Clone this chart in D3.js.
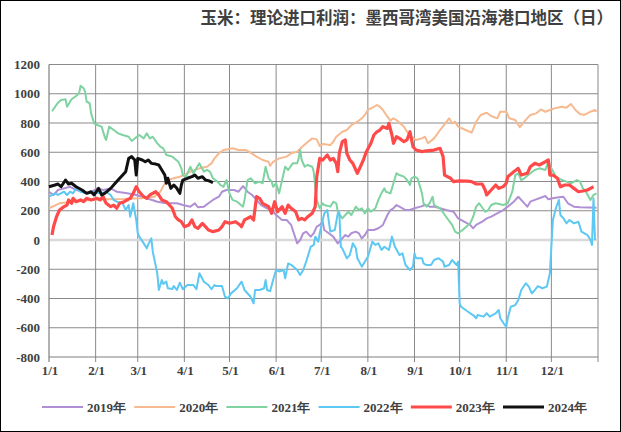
<!DOCTYPE html>
<html>
<head>
<meta charset="utf-8">
<title>玉米：理论进口利润</title>
<script src="https://d3js.org/d3.v7.min.js"></script>
<style>
  body { margin: 0; background: #fff; }
  svg { display: block; }
</style>
</head>
<body>
<div id="chart"></div>
<script>

  const chartTitle = "玉米：理论进口利润：墨西哥湾美国沿海港口地区（日）";
  const xTickLabels = ["1/1","2/1","3/1","4/1","5/1","6/1","7/1","8/1","9/1","10/1","11/1","12/1"];
  const yTicks = [-800,-600,-400,-200,0,200,400,600,800,1000,1200];
  const seriesNames = ["2019年","2020年","2021年","2022年","2023年","2024年"];
  const seriesColors = ["#b08fd4","#f7b98f","#7ed3a0","#5cc8f3","#ff4a4a","#111111"];
  const seriesWidths = [2,2,2,2,3.2,3];

  const s2019 = [["1/1",330],["1/4",308],["1/7",342],["1/11",353],["1/15",364],["1/19",342],["1/24",330],["1/28",319],["2/2",353],["2/6",342],["2/11",353],["2/15",330],["2/22",319],["2/28",308],["3/7",285],["3/14",262],["3/20",251],["3/27",251],["3/31",239],["4/5",228],["4/8",251],["4/10",224],["4/14",228],["4/17",251],["4/20",274],["4/24",296],["4/26",330],["4/29",342],["5/4",342],["5/7",330],["5/10",369],["5/13",330],["5/16",308],["5/19",274],["5/22",239],["5/26",217],["5/29",205],["6/1",171],["6/5",137],["6/8",137],["6/11",103],["6/15",-23],["6/17",0],["6/19",46],["6/21",57],["6/24",23],["6/26",46],["6/28",91],["6/30",103],["7/2",125],["7/3",68],["7/6",46],["7/9",23],["7/12",-23],["7/15",11],["7/17",34],["7/19",23],["7/21",46],["7/24",57],["7/26",46],["7/28",11],["7/30",34],["8/1",68],["8/5",68],["8/8",80],["8/11",103],["8/14",171],["8/16",205],["8/18",217],["8/20",239],["8/22",228],["8/26",205],["8/29",205],["9/1",217],["9/5",228],["9/8",239],["9/11",228],["9/14",228],["9/18",217],["9/22",205],["9/27",193],["9/30",148],["10/4",125],["10/8",103],["10/10",80],["10/12",103],["10/16",125],["10/19",148],["10/22",160],["10/26",182],["10/30",205],["11/2",228],["11/6",262],["11/9",296],["11/12",262],["11/15",228],["11/17",262],["11/20",274],["11/27",301],["11/29",278],["12/2",285],["12/6",292],["12/9",296],["12/12",251],["12/16",228],["12/20",224],["12/26",222],["12/31",221]];

  const s2020 = [["1/1",217],["1/8",251],["1/17",262],["1/28",274],["2/8",278],["2/19",280],["3/3",285],["3/12",296],["3/16",330],["3/19",388],["3/21",410],["3/25",422],["3/29",433],["4/1",444],["4/5",467],["4/8",479],["4/11",490],["4/16",501],["4/19",524],["4/21",558],["4/24",593],["4/27",615],["4/30",620],["5/3",627],["5/7",615],["5/12",615],["5/15",597],["5/19",570],["5/23",547],["5/27",535],["5/28",506],["5/30",535],["6/3",558],["6/8",570],["6/11",593],["6/15",604],["6/18",634],["6/21",661],["6/25",695],["6/28",688],["6/30",643],["7/2",656],["7/7",649],["7/9",672],["7/11",706],["7/15",740],["7/18",752],["7/21",786],["7/25",809],["7/28",832],["7/30",855],["8/1",889],["8/5",911],["8/7",923],["8/9",911],["8/11",889],["8/14",843],["8/16",816],["8/18",832],["8/20",820],["8/25",775],["8/27",740],["8/30",706],["9/2",684],["9/6",695],["9/8",706],["9/10",661],["9/14",695],["9/18",752],["9/24",832],["9/26",798],["9/28",809],["9/30",775],["10/5",752],["10/9",734],["10/12",809],["10/15",855],["10/19",870],["10/22",848],["10/26",832],["10/28",877],["11/1",877],["11/3",832],["11/7",820],["11/10",771],["11/13",809],["11/17",855],["11/21",866],["11/24",893],["11/27",877],["11/30",889],["12/3",900],["12/8",911],["12/11",905],["12/14",930],["12/17",889],["12/20",862],["12/23",855],["12/27",877],["12/30",889],["12/31",877]];

  const s2021 = [["1/3",880],["1/7",939],["1/9",957],["1/12",962],["1/13",911],["1/15",946],["1/16",962],["1/19",985],["1/21",1003],["1/22",1055],["1/24",1037],["1/25",1014],["1/26",946],["1/28",935],["1/29",866],["1/31",798],["2/2",786],["2/5",775],["2/7",706],["2/8",684],["2/10",775],["2/13",752],["2/16",729],["2/19",718],["2/23",706],["2/25",677],["2/28",702],["3/2",718],["3/5",695],["3/7",729],["3/9",695],["3/11",706],["3/14",661],["3/16",638],["3/18",627],["3/19",604],["3/20",581],["3/24",570],["3/26",552],["3/28",535],["3/30",490],["3/31",444],["4/2",433],["4/5",501],["4/7",456],["4/9",490],["4/11",524],["4/14",467],["4/16",479],["4/18",467],["4/20",422],["4/23",399],["4/25",376],["4/27",364],["4/29",410],["5/1",319],["5/3",274],["5/6",262],["5/10",228],["5/11",274],["5/13",410],["5/15",422],["5/18",388],["5/21",399],["5/23",388],["5/25",501],["5/27",422],["5/29",399],["5/30",364],["6/1",388],["6/3",319],["6/5",410],["6/7",501],["6/9",479],["6/12",524],["6/15",524],["6/16",558],["6/17",615],["6/18",547],["6/20",501],["6/22",513],["6/25",501],["6/26",467],["6/27",364],["6/28",274],["6/30",217],["7/2",251],["7/3",239],["7/7",228],["7/9",262],["7/11",251],["7/12",193],["7/15",148],["7/17",171],["7/19",193],["7/21",171],["7/24",228],["7/26",205],["7/28",217],["7/30",182],["8/1",217],["8/3",193],["8/6",217],["8/8",274],["8/10",319],["8/12",353],["8/13",330],["8/16",319],["8/18",388],["8/20",456],["8/22",444],["8/25",433],["8/27",410],["8/29",376],["8/30",422],["9/1",433],["9/3",422],["9/6",319],["9/7",251],["9/9",228],["9/11",251],["9/13",296],["9/14",239],["9/18",217],["9/22",159],["9/26",103],["9/28",57],["9/30",46],["10/3",68],["10/8",114],["10/10",159],["10/12",228],["10/14",251],["10/18",193],["10/20",205],["10/22",239],["10/25",251],["10/30",239],["11/2",251],["11/5",330],["11/7",444],["11/9",456],["11/11",410],["11/13",422],["11/17",456],["11/20",479],["11/23",490],["11/27",479],["11/29",535],["12/1",490],["12/4",433],["12/8",410],["12/11",399],["12/14",388],["12/18",410],["12/20",399],["12/22",353],["12/24",330],["12/27",274],["12/29",308],["12/31",319]];

  const s2022 = [["1/1",296],["1/5",319],["1/7",308],["1/11",330],["1/13",308],["1/15",330],["1/17",319],["1/19",353],["1/22",330],["1/26",319],["1/30",330],["2/4",319],["2/8",330],["2/11",308],["2/13",274],["2/15",262],["2/19",251],["2/21",205],["2/23",239],["2/24",159],["2/26",251],["2/27",193],["2/28",137],["3/1",46],["3/2",23],["3/5",-23],["3/7",-57],["3/8",-30],["3/10",11],["3/11",-80],["3/14",-228],["3/15",-342],["3/17",-274],["3/18",-300],["3/20",-285],["3/21",-330],["3/24",-335],["3/25",-315],["3/27",-342],["3/29",-292],["3/31",-337],["4/3",-308],["4/7",-308],["4/9",-337],["4/11",-228],["4/14",-285],["4/17",-308],["4/19",-337],["4/21",-308],["4/22",-315],["4/26",-315],["4/28",-388],["4/30",-399],["5/2",-365],["5/6",-330],["5/9",-285],["5/11",-342],["5/15",-388],["5/17",-433],["5/18",-342],["5/21",-342],["5/24",-330],["5/25",-274],["5/26",-342],["5/28",-350],["5/30",-274],["6/1",-205],["6/3",-215],["6/6",-205],["6/7",-262],["6/9",-160],["6/11",-170],["6/15",-205],["6/17",-239],["6/19",-205],["6/21",-148],["6/24",-46],["6/26",-35],["6/27",23],["6/29",-11],["6/30",46],["7/3",182],["7/5",205],["7/7",57],["7/10",68],["7/12",182],["7/13",190],["7/14",-46],["7/15",-57],["7/18",-125],["7/20",-103],["7/22",-23],["7/24",-57],["7/25",-125],["7/28",-182],["7/30",-148],["8/1",-114],["8/4",-11],["8/6",-34],["8/8",-23],["8/10",-68],["8/12",-46],["8/15",-68],["8/17",23],["8/19",-46],["8/22",-103],["8/24",-91],["8/26",-171],["8/29",-205],["8/31",-182],["9/1",-91],["9/2",-125],["9/6",-125],["9/7",-160],["9/9",-171],["9/12",-171],["9/14",-137],["9/17",-125],["9/20",-148],["9/21",-182],["9/24",-171],["9/26",-137],["9/29",-171],["9/30",-148],["10/1",-433],["10/2",-456],["10/5",-479],["10/8",-501],["10/10",-513],["10/12",-535],["10/13",-513],["10/17",-524],["10/19",-501],["10/21",-524],["10/25",-501],["10/27",-479],["10/28",-535],["10/31",-581],["11/1",-593],["11/2",-535],["11/4",-456],["11/7",-445],["11/9",-410],["11/11",-342],["11/14",-296],["11/16",-319],["11/18",-365],["11/20",-342],["11/22",-315],["11/25",-330],["11/28",-319],["11/30",-228],["12/2",137],["12/4",217],["12/6",274],["12/7",171],["12/9",148],["12/11",114],["12/13",137],["12/16",114],["12/19",125],["12/21",57],["12/25",34],["12/27",0],["12/28",-34],["12/29",283],["12/30",0]];

  const s2023 = [["1/3",34],["1/4",91],["1/6",159],["1/8",205],["1/11",228],["1/13",239],["1/14",274],["1/16",251],["1/17",285],["1/19",262],["1/22",274],["1/24",262],["1/26",285],["1/29",274],["2/2",285],["2/4",274],["2/6",296],["2/8",251],["2/11",228],["2/13",239],["2/15",217],["2/17",251],["2/20",262],["2/22",274],["2/24",285],["2/26",319],["2/28",364],["3/2",330],["3/5",296],["3/7",285],["3/9",308],["3/13",330],["3/15",308],["3/17",274],["3/20",262],["3/24",217],["3/26",159],["3/28",137],["3/30",125],["4/1",91],["4/4",103],["4/6",137],["4/8",91],["4/10",80],["4/13",114],["4/15",91],["4/17",68],["4/20",57],["4/24",68],["4/26",91],["4/28",125],["5/1",114],["5/5",125],["5/8",103],["5/9",91],["5/11",137],["5/15",159],["5/17",137],["5/19",296],["5/21",285],["5/23",251],["5/27",228],["5/29",182],["5/31",262],["6/2",193],["6/5",228],["6/7",182],["6/9",239],["6/11",217],["6/14",193],["6/16",137],["6/18",148],["6/20",137],["6/22",159],["6/25",182],["6/27",228],["6/28",433],["6/30",558],["7/2",547],["7/5",581],["7/7",547],["7/9",558],["7/11",524],["7/12",467],["7/13",593],["7/15",672],["7/17",684],["7/18",593],["7/20",547],["7/22",524],["7/25",456],["7/27",501],["7/29",547],["7/31",604],["8/3",661],["8/5",718],["8/7",740],["8/9",752],["8/11",775],["8/14",763],["8/15",798],["8/17",718],["8/18",661],["8/20",706],["8/22",695],["8/25",672],["8/27",684],["8/29",740],["8/31",638],["9/2",615],["9/6",604],["9/9",610],["9/14",615],["9/18",627],["9/20",570],["9/21",444],["9/25",422],["9/27",399],["10/1",404],["10/6",402],["10/9",399],["10/12",383],["10/16",383],["10/18",342],["10/19",308],["10/22",342],["10/25",376],["10/27",353],["10/30",365],["11/1",388],["11/2",433],["11/6",467],["11/9",490],["11/11",444],["11/15",456],["11/17",501],["11/20",524],["11/23",513],["11/27",535],["11/29",547],["11/30",444],["12/2",444],["12/5",422],["12/7",364],["12/10",376],["12/13",376],["12/16",353],["12/19",330],["12/22",335],["12/25",342],["12/27",353],["12/29",364]];

  const s2024 = [["1/1",364],["1/5",376],["1/7",383],["1/9",364],["1/12",410],["1/14",383],["1/16",388],["1/19",364],["1/23",342],["1/26",319],["1/29",330],["1/31",308],["2/3",353],["2/5",308],["2/7",319],["2/11",353],["2/14",388],["2/17",422],["2/21",467],["2/23",558],["2/25",570],["2/27",547],["2/28",444],["3/1",558],["3/4",547],["3/6",535],["3/8",547],["3/10",524],["3/13",519],["3/15",513],["3/17",479],["3/19",444],["3/20",388],["3/21",422],["3/23",353],["3/25",376],["3/27",353],["3/29",319],["3/30",376],["3/31",410],["4/3",422],["4/6",433],["4/8",444],["4/10",422],["4/13",433],["4/15",410],["4/17",406],["4/20",392]];

  const allSeries = [s2019, s2020, s2021, s2022, s2023, s2024];

  const width = 621, height = 432;
  const plot = {left: 49, right: 598, top: 64.5, bottom: 357};

  const parseDay = d3.timeParse("%m/%d");
  const yearStart = new Date(1900, 0, 1), yearEnd = new Date(1901, 0, 1);

  const x = d3.scaleTime().domain([yearStart, yearEnd]).range([plot.left, plot.right]);
  const y = d3.scaleLinear().domain([-800, 1200]).range([plot.bottom, plot.top]);

  const svg = d3.select("#chart").append("svg")
    .attr("width", width)
    .attr("height", height);

  svg.append("rect")
    .attr("x", 0).attr("y", 0).attr("width", width).attr("height", height)
    .attr("fill", "#fff");

  // title
  svg.append("text")
    .attr("x", 613).attr("y", 24)
    .attr("text-anchor", "end")
    .style("font-family", "'Noto Sans CJK SC', sans-serif")
    .style("font-size", "16.5px")
    .style("font-weight", "bold")
    .style("fill", "#404040")
    .text(chartTitle);

  const gridColor = "#8a8a8a";
  const tickDates = xTickLabels.map(parseDay);

  // horizontal grid
  svg.append("g").selectAll("line")
    .data(yTicks.filter(v => v !== 0 && v !== -800))
    .enter().append("line")
    .attr("x1", plot.left).attr("x2", plot.right)
    .attr("y1", d => y(d)).attr("y2", d => y(d))
    .attr("stroke", gridColor).attr("stroke-width", 1);

  // vertical grid + ticks below the axis
  const vLines = tickDates.slice(1).concat([yearEnd]);
  svg.append("g").selectAll("line")
    .data(vLines)
    .enter().append("line")
    .attr("x1", d => x(d)).attr("x2", d => x(d))
    .attr("y1", plot.top).attr("y2", plot.bottom + 5)
    .attr("stroke", gridColor).attr("stroke-width", 1);

  // zero line
  svg.append("line")
    .attr("x1", plot.left).attr("x2", plot.right)
    .attr("y1", y(0)).attr("y2", y(0))
    .attr("stroke", "#d9d9d9").attr("stroke-width", 2.5);

  // axis lines
  svg.append("line")
    .attr("x1", plot.left).attr("x2", plot.right)
    .attr("y1", plot.bottom).attr("y2", plot.bottom)
    .attr("stroke", "#7f7f7f").attr("stroke-width", 1.2);
  svg.append("line")
    .attr("x1", plot.left).attr("x2", plot.left)
    .attr("y1", plot.top).attr("y2", plot.bottom + 5)
    .attr("stroke", "#7f7f7f").attr("stroke-width", 1.2);

  const labelFont = "'Liberation Serif', 'Times New Roman', serif";

  svg.append("g").selectAll("text")
    .data(yTicks)
    .enter().append("text")
    .attr("x", 40).attr("y", d => y(d))
    .attr("dy", "0.35em")
    .attr("text-anchor", "end")
    .style("font-family", labelFont)
    .style("font-size", "13px")
    .style("font-weight", "bold")
    .style("fill", "#404040")
    .text(d => d);

  svg.append("g").selectAll("text")
    .data(xTickLabels)
    .enter().append("text")
    .attr("x", d => x(parseDay(d)) + 1)
    .attr("y", 375)
    .attr("text-anchor", "middle")
    .style("font-family", labelFont)
    .style("font-size", "13px")
    .style("font-weight", "bold")
    .style("fill", "#404040")
    .text(d => d);

  // series
  const line = d3.line()
    .x(d => x(parseDay(d[0])))
    .y(d => y(d[1]));

  svg.append("g").selectAll("path")
    .data(allSeries)
    .enter().append("path")
    .attr("d", d => line(d))
    .attr("fill", "none")
    .attr("stroke", (d, i) => seriesColors[i])
    .attr("stroke-width", (d, i) => seriesWidths[i])
    .attr("stroke-linejoin", "round");

  // legend
  const legend = svg.append("g").attr("transform", "translate(42,407)");
  const item = legend.selectAll("g")
    .data(seriesNames)
    .enter().append("g")
    .attr("transform", (d, i) => "translate(" + (i * 92.2) + ",0)");
  item.append("line")
    .attr("x1", 0).attr("x2", 41)
    .attr("stroke", (d, i) => seriesColors[i])
    .attr("stroke-width", (d, i) => seriesWidths[i]);
  item.append("text")
    .attr("x", 45).attr("dy", "0.35em")
    .style("font-family", labelFont)
    .style("font-size", "13px")
    .style("font-weight", "bold")
    .style("fill", "#404040")
    .text(d => d);

  // outer frame
  svg.append("rect")
    .attr("x", 0.5).attr("y", 0.5).attr("width", width - 1).attr("height", height - 1)
    .attr("fill", "none").attr("stroke", "#000").attr("stroke-width", 1);

</script>
</body>
</html>
